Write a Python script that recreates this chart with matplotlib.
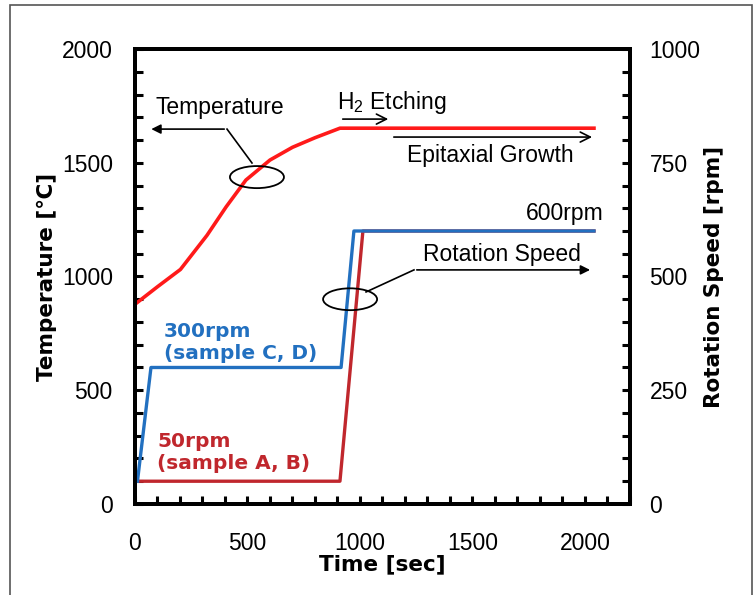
import matplotlib.pyplot as plt
from matplotlib.patches import Ellipse, Rectangle
from matplotlib.ticker import MultipleLocator

plt.rcParams['font.family'] = ['Liberation Sans', 'DejaVu Sans']
plt.rcParams['mathtext.fontset'] = 'custom'
plt.rcParams['mathtext.rm'] = 'Liberation Sans'

# temperature profile
temp_t = [0, 100, 202, 320, 405, 493, 600, 700, 800, 911, 2040]
temp_c = [878, 955, 1031, 1181, 1306, 1424, 1512, 1568, 1610, 1652, 1652]

# rotation speed, 300rpm recipe (sample C, D)
blue_t = [11, 71, 916, 973, 2040]
blue_rpm = [50, 300, 300, 600, 600]

# rotation speed, 50rpm recipe (sample A, B)
red_t = [11, 911, 1013, 2040]
red_rpm = [50, 50, 600, 600]

fig = plt.figure(figsize=(7.55, 5.95), dpi=100)
ax = fig.add_axes([0.1788, 0.153, 0.6556, 0.7646])
ax2 = ax.twinx()

ax.plot(temp_t, temp_c, color='#FF1A1A', lw=2.6)
ax2.plot(red_t, red_rpm, color='#C0272D', lw=2.4)
ax2.plot(blue_t, blue_rpm, color='#2270C0', lw=2.4)

ax.set_xlim(0, 2200)
ax.set_ylim(0, 2000)
ax2.set_ylim(0, 1000)

ax.xaxis.set_major_locator(MultipleLocator(500))
ax.xaxis.set_minor_locator(MultipleLocator(100))
ax.yaxis.set_major_locator(MultipleLocator(500))
ax.yaxis.set_minor_locator(MultipleLocator(100))
ax2.yaxis.set_major_locator(MultipleLocator(250))
ax2.yaxis.set_minor_locator(MultipleLocator(50))

for a in (ax, ax2):
    for s in a.spines.values():
        s.set_linewidth(2.8)
    a.tick_params(which='both', direction='in', width=2.2, length=6, labelsize=16.5)
ax.tick_params(axis='x', which='both', top=False, pad=20)
ax.tick_params(axis='y', which='both', pad=16)
ax2.tick_params(axis='y', which='both', pad=14)

ax.set_xlabel('Time [sec]', fontsize=15.5, fontweight='bold', family='DejaVu Sans')
ax.set_ylabel('Temperature [℃]', fontsize=15.5, fontweight='bold', family='DejaVu Sans')
ax2.set_ylabel('Rotation Speed [rpm]', fontsize=15.5, fontweight='bold', family='DejaVu Sans')
ax.xaxis.set_label_coords(0.5, -0.11)
ax.yaxis.set_label_coords(-0.158, 0.5)
ax2.yaxis.set_label_coords(1.15, 0.5)

# annotations
ax.text(89, 1741, 'Temperature', fontsize=16.5, va='center')
ax.plot([520, 409], [1499, 1648], color='black', lw=1.2)
ax.annotate('', xy=(60, 1648), xytext=(409, 1648),
            arrowprops=dict(arrowstyle='-|>', color='black', lw=1.2, mutation_scale=14))
ax.add_patch(Ellipse((542, 1437), 240, 97, fill=False, ec='black', lw=1.3, zorder=3))

ax.text(898, 1767, 'H$_{2}$ Etching', fontsize=16.5, va='center')
ax.annotate('', xy=(1138, 1692), xytext=(911, 1692),
            arrowprops=dict(arrowstyle='->', color='black', lw=1.2, mutation_scale=18))
ax.text(1209, 1534, 'Epitaxial Growth', fontsize=16.5, va='center')
ax.annotate('', xy=(2044, 1613), xytext=(1138, 1613),
            arrowprops=dict(arrowstyle='->', color='black', lw=1.2, mutation_scale=18))

ax.text(2084, 1279, '600rpm', fontsize=16.5, va='center', ha='right')
ax.text(1280, 1095, 'Rotation Speed', fontsize=16.5, va='center')
ax.plot([1027, 1240], [932, 1029], color='black', lw=1.2)
ax.annotate('', xy=(2035, 1029), xytext=(1240, 1029),
            arrowprops=dict(arrowstyle='-|>', color='black', lw=1.2, mutation_scale=14))
ax2.add_patch(Ellipse((956, 450), 240, 48, fill=False, ec='black', lw=1.3, zorder=3))

ax.text(129, 710, '300rpm\n(sample C, D)', fontsize=14.5, fontweight='bold',
        color='#2270C0', va='center', family='DejaVu Sans')
ax.text(98, 228, '50rpm\n(sample A, B)', fontsize=14.5, fontweight='bold',
        color='#C0272D', va='center', family='DejaVu Sans')

# thin frame round the whole picture
fig.patches.append(Rectangle((10 / 755, -0.02), 742 / 755, 1.012, transform=fig.transFigure,
                             fill=False, ec='#555555', lw=1.2))

fig.savefig('out.png', dpi=100)
